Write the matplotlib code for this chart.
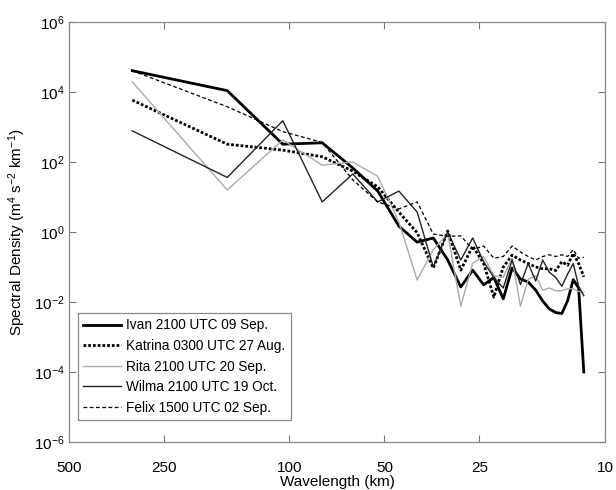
import numpy as np
import matplotlib
matplotlib.use('Agg')
import matplotlib.pyplot as plt
from matplotlib.ticker import FixedLocator, FixedFormatter, NullLocator

plt.rcParams['font.family'] = ['Liberation Sans', 'DejaVu Sans']
plt.rcParams['mathtext.fontset'] = 'custom'
plt.rcParams['mathtext.rm'] = 'Liberation Sans'
plt.rcParams['mathtext.it'] = 'Liberation Sans:italic'

# wavenumber index -> wavelength (km)
wavenumber = np.arange(1, 28)
wavelength = 315.0 / wavenumber

# log10 of spectral density for each storm
ivan_log = [4.61, 4.04, 2.51, 2.55, 1.83, 1.17, 0.17, -0.29, -0.17, -0.80,
            -1.57, -1.09, -1.51, -1.30, -1.91, -1.03, -1.34, -1.43, -1.66, -1.97,
            -2.20, -2.30, -2.33, -1.96, -1.36, -1.60, -4.00]
katrina_log = [3.77, 2.51, 2.34, 2.15, 1.74, 1.29, 0.57, -0.02, -1.03, 0.03,
               -1.09, -0.40, -0.90, -1.86, -1.00, -0.66, -0.80, -0.90, -1.00, -1.05,
               -1.05, -1.10, -0.85, -0.95, -0.61, -0.90, -1.28]
rita_log = [4.29, 1.20, 2.63, 1.91, 2.00, 1.59, 0.29, -1.37, -0.50, -0.05,
            -2.12, -0.89, -0.70, -1.25, -1.29, -0.75, -2.12, -1.35, -1.25, -1.66,
            -1.60, -1.68, -1.68, -1.62, -1.62, -1.70, -1.72]
wilma_log = [2.89, 1.56, 3.18, 0.86, 1.66, 0.86, 1.17, 0.57, -1.00, 0.00,
             -0.80, -0.17, -0.85, -1.30, -1.60, -0.80, -1.50, -0.90, -1.40, -0.80,
             -1.15, -1.30, -1.55, -1.20, -0.90, -1.55, -1.82]
felix_log = [4.61, 3.58, 2.87, 2.56, 1.49, 0.86, 0.66, 0.86, -0.06, -0.12,
             -0.11, -0.50, -0.40, -0.75, -0.70, -0.40, -0.57, -0.70, -0.80, -0.70,
             -0.65, -0.70, -0.65, -0.70, -0.50, -0.75, -0.72]

labels = ['Ivan 2100 UTC 09 Sep.', 'Katrina 0300 UTC 27 Aug.', 'Rita 2100 UTC 20 Sep.',
          'Wilma 2100 UTC 19 Oct.', 'Felix 1500 UTC 02 Sep.']

fig = plt.figure(figsize=(6.16, 4.9), dpi=100)
ax = fig.add_axes([0.112, 0.098, 0.870, 0.857])

ax.plot(wavelength, 10.0 ** np.array(ivan_log), color='black', lw=2.0, label=labels[0])
ax.plot(wavelength, 10.0 ** np.array(katrina_log), color='black', lw=2.0,
        linestyle=(0, (1, 0.7)), label=labels[1])
ax.plot(wavelength, 10.0 ** np.array(rita_log), color='#aaaaaa', lw=1.0, label=labels[2])
ax.plot(wavelength, 10.0 ** np.array(wilma_log), color='#222222', lw=1.0, label=labels[3])
ax.plot(wavelength, 10.0 ** np.array(felix_log), color='black', lw=0.9,
        linestyle=(0, (3, 2)), label=labels[4])

ax.set_xscale('log')
ax.set_yscale('log')
ax.set_xlim(500, 10)
ax.set_ylim(1e-6, 1e6)

xticks = [500, 250, 100, 50, 25, 10]
ax.xaxis.set_major_locator(FixedLocator(xticks))
ax.xaxis.set_major_formatter(FixedFormatter([str(t) for t in xticks]))
ax.xaxis.set_minor_locator(NullLocator())
ax.yaxis.set_major_locator(FixedLocator([10.0 ** e for e in range(-6, 7, 2)]))
ax.yaxis.set_major_formatter(FixedFormatter(['$10^{%d}$' % e for e in range(-6, 7, 2)]))
ax.yaxis.set_minor_locator(NullLocator())

ax.tick_params(direction='in', length=5, width=0.8, color='#777777',
               top=True, right=True, labelsize=11)
ax.tick_params(axis='x', pad=14)
ax.tick_params(axis='y', pad=3)
for s in ax.spines.values():
    s.set_color('#888888')
    s.set_linewidth(0.9)

ax.set_xlabel('Wavelength (km)', fontsize=11, labelpad=0)
ax.set_ylabel('Spectral Density (m$^{4}$ s$^{-2}$ km$^{-1}$)', fontsize=11, labelpad=4)

leg = ax.legend(loc='lower left', bbox_to_anchor=(0.004, 0.036), fontsize=9.8,
                handlelength=2.8, handletextpad=0.35, labelspacing=0.48,
                borderpad=0.4, fancybox=False, framealpha=1)
leg.get_frame().set_edgecolor('#888888')
leg.get_frame().set_linewidth(0.9)

fig.savefig('out.png', dpi=100)
